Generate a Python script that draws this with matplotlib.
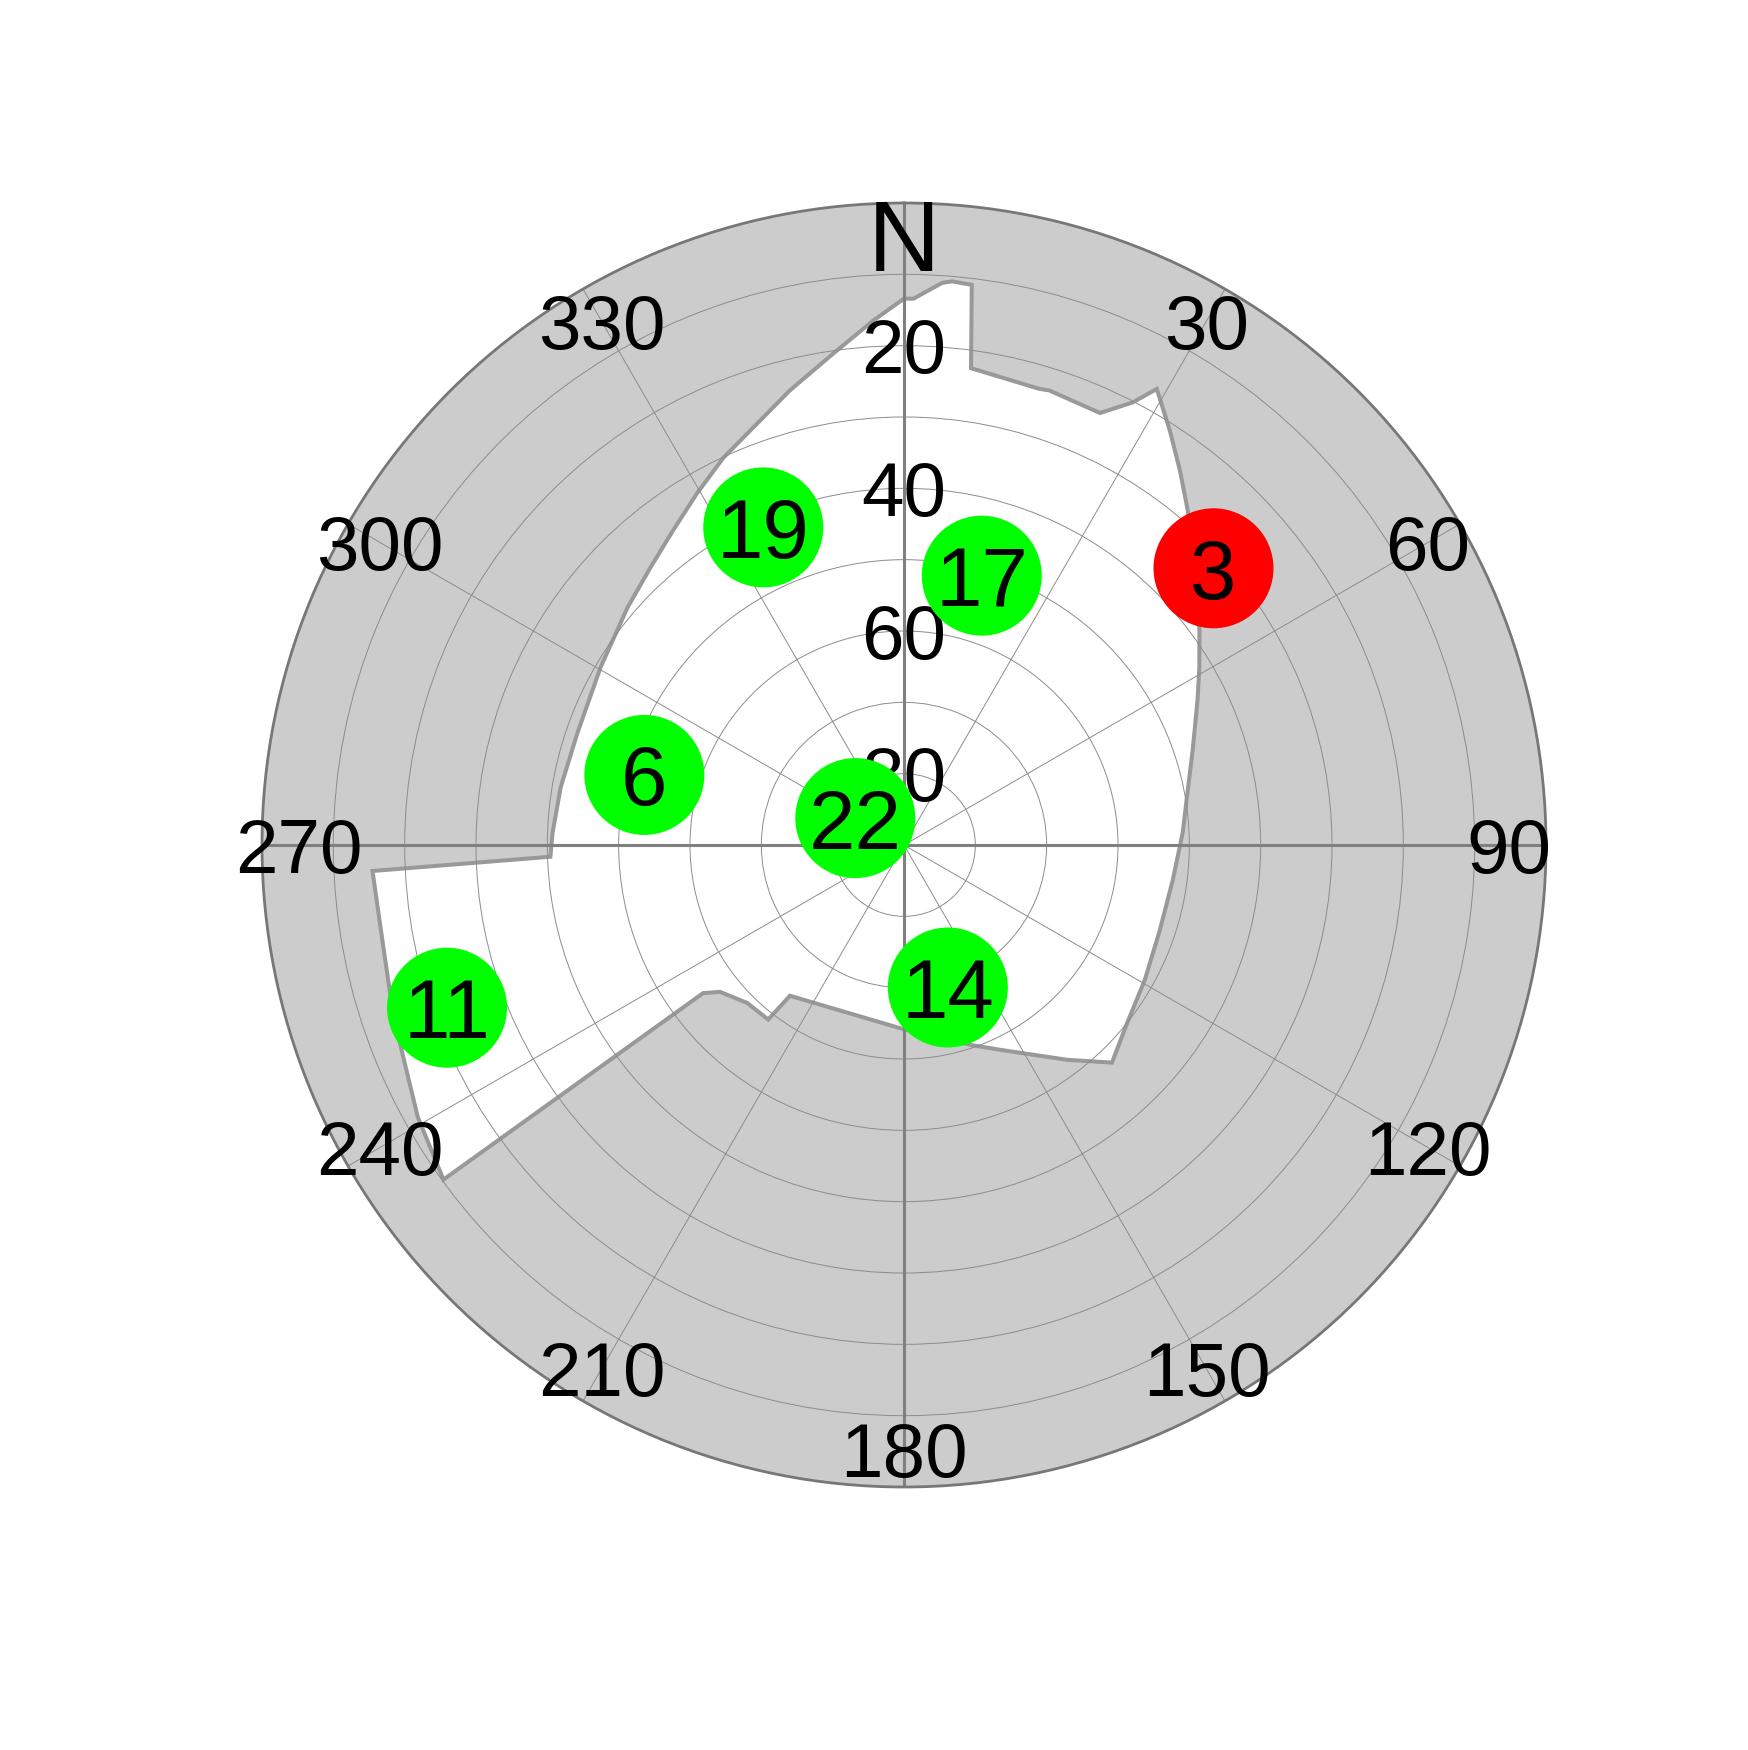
import numpy as np
import matplotlib
matplotlib.use("Agg")
import matplotlib.pyplot as plt

plt.rcParams['font.family'] = ['Liberation Sans', 'DejaVu Sans']

# Horizon / elevation mask (azimuth deg, elevation deg)
mask_az = [0, 1.0, 3.9, 4.9, 6.9, 8.0, 16.5, 17.7, 24.4, 27.3, 29.0, 32.7, 36.4, 40.3,
           46.6, 54.0, 59.0, 63.7, 71.8, 79.6, 87.5, 97.4, 108.4, 119.3, 128.5, 136.3,
           142.8, 154.9, 161.7, 180.3, 217.1, 217.9, 224.8, 231.4, 233.6, 234.0, 240.8,
           251.4, 258.6, 267.2, 268.1, 272.0, 279.6, 288.9, 300.4, 310.7, 317.6, 323.7,
           329.5, 335.0, 340.1, 345.9, 351.8, 356.6, 360]
mask_el = [13.4, 13.4, 11.0, 10.7, 10.9, 22.5, 23.3, 23.1, 23.5, 20.2, 16.9, 21.0, 24.8, 28.5,
           34.0, 38.8, 41.7, 44.1, 47.4, 49.6, 50.9, 52.0, 52.2, 51.3, 50.0, 47.8,
           52.2, 58.3, 60.5, 64.2, 63.5, 59.0, 58.8, 57.0, 55.0, 10.2, 11.9,
           14.5, 15.6, 15.4, 40.4, 40.7, 41.2, 41.6, 40.7, 38.9, 37.3, 35.3,
           32.8, 30.1, 27.8, 24.3, 20.4, 16.4, 13.4]

# Satellites
sat_ids = ['19', '17', '3', '6', '22', '14', '11']
sat_az = [336.1, 16.1, 48.2, 285.1, 298.9, 162.9, 250.4]
sat_el = [41.3, 50.7, 31.8, 52.3, 82.2, 69.1, 22.0]
sat_ok = [True, True, False, True, True, True, True]

az_ticks = [0, 30, 60, 90, 120, 150, 180, 210, 240, 270, 300, 330]
az_labels = ['N', '30', '60', '90', '120', '150', '180', '210', '240', '270', '300', '330']
el_grid = [10, 20, 30, 40, 50, 60, 70, 80]
el_labels = [20, 40, 60, 80]

W, H, DPI = 1748, 1750, 100
fig = plt.figure(figsize=(W / DPI, H / DPI), dpi=DPI)
fig.patch.set_facecolor('white')
R = 642
cx, cy = 904, 1750 - 845
ax = fig.add_axes([(cx - R) / W, (cy - R) / H, 2 * R / W, 2 * R / H], projection='polar')
ax.set_theta_zero_location('N')
ax.set_theta_direction(-1)
ax.set_ylim(90, 0)
ax.set_facecolor('#cccccc')

ax.set_xticks(np.radians(az_ticks))
ax.set_xticklabels([])
ax.set_yticks(el_grid)
ax.set_yticklabels([])
ax.grid(True, color='#8c8c8c', linewidth=0.7)
ax.spines['polar'].set_color('#777777')
ax.spines['polar'].set_linewidth(2.0)

# visible sky
ax.fill(np.radians(mask_az), mask_el, facecolor='white', edgecolor='#999999',
        linewidth=2.9, zorder=1)

# cardinal axes
for a in [0, 90, 180, 270]:
    ax.axvline(np.radians(a), color='#808080', linewidth=2.2, zorder=1.6)

# azimuth labels
for a, lab in zip(az_ticks, az_labels):
    if lab == 'N':
        ax.text(np.radians(a), 4.4, lab, fontsize=72, ha='center', va='center_baseline', zorder=5)
    else:
        ax.text(np.radians(a), 5.2, lab, fontsize=55, ha='center', va='center_baseline', zorder=5)

# elevation labels
for e in el_labels:
    ax.text(0, e, str(e), fontsize=55, ha='center', va='center_baseline', zorder=5)

colors = ['#00ff00' if ok else '#ff0000' for ok in sat_ok]
ax.scatter(np.radians(sat_az), sat_el, s=7465, c=colors, edgecolors='none', zorder=6)
for sid, a, e in zip(sat_ids, sat_az, sat_el):
    ax.text(np.radians(a), e, sid, fontsize=60, ha='center', va='center_baseline', zorder=7)

fig.savefig('out.png', dpi=DPI, facecolor='white')
